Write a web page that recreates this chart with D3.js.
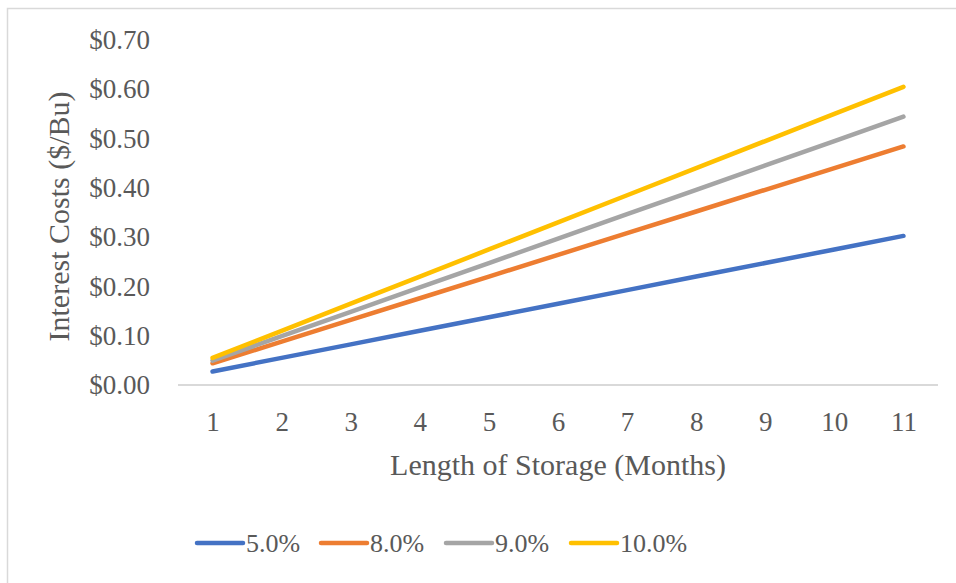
<!DOCTYPE html>
<html>
<head>
<meta charset="utf-8">
<script src="https://cdn.jsdelivr.net/npm/d3@7"></script>
<style>
  html, body { margin: 0; padding: 0; background: #fff; }
  svg { display: block; }
  text { font-family: "Liberation Serif", "DejaVu Serif", serif; fill: #595959; }
</style>
</head>
<body>
<svg id="chart" width="956" height="583"></svg>
<script>
// Storage months on the x axis
const months = [1, 2, 3, 4, 5, 6, 7, 8, 9, 10, 11];

// Interest cost per bushel for each annual rate
const rate5  = [0.0275, 0.055, 0.0825, 0.11, 0.1375, 0.165, 0.1925, 0.22, 0.2475, 0.275, 0.3025];
const rate8  = [0.044, 0.088, 0.132, 0.176, 0.22, 0.264, 0.308, 0.352, 0.396, 0.44, 0.484];
const rate9  = [0.0495, 0.099, 0.1485, 0.198, 0.2475, 0.297, 0.3465, 0.396, 0.4455, 0.495, 0.5445];
const rate10 = [0.055, 0.11, 0.165, 0.22, 0.275, 0.33, 0.385, 0.44, 0.495, 0.55, 0.605];

const seriesNames = ["5.0%", "8.0%", "9.0%", "10.0%"];
const seriesColors = ["#4472C4", "#ED7D31", "#A5A5A5", "#FFC000"];
const yTicks = [0, 0.1, 0.2, 0.3, 0.4, 0.5, 0.6, 0.7];

const series = [rate5, rate8, rate9, rate10].map((vals, i) => ({
  name: seriesNames[i],
  color: seriesColors[i],
  values: vals.map((v, j) => ({ m: months[j], v }))
}));

const svg = d3.select("#chart");

// Chart frame
svg.append("rect")
  .attr("x", 7.5).attr("y", 8.5)
  .attr("width", 980).attr("height", 600)
  .attr("fill", "#fff")
  .attr("stroke", "#D9D9D9").attr("stroke-width", 1.5);

const plot = { left: 178, right: 938, top: 40, bottom: 385 };

const x = d3.scalePoint()
  .domain(months)
  .range([plot.left, plot.right])
  .padding(0.5);

const y = d3.scaleLinear()
  .domain([0, 0.7])
  .range([plot.bottom, plot.top]);

// Y axis labels (no line, no ticks)
const yAxis = svg.append("g")
  .attr("transform", `translate(${plot.left - 28},0)`)
  .call(d3.axisLeft(y).tickValues(yTicks).tickSize(0).tickPadding(0)
    .tickFormat(d => "$" + d.toFixed(2)));
yAxis.select(".domain").remove();
yAxis.selectAll("text")
  .style("font-family", "'Liberation Serif', serif")
  .style("font-size", "27px")
  .attr("fill", "#595959");

// X axis
const xAxis = svg.append("g")
  .attr("transform", `translate(0,${plot.bottom})`)
  .call(d3.axisBottom(x).tickSize(0).tickPadding(27));
xAxis.select(".domain")
  .attr("stroke", "#D9D9D9").attr("stroke-width", 2)
  .attr("d", `M${plot.left},0H${plot.right}`);
xAxis.selectAll("text")
  .style("font-family", "'Liberation Serif', serif")
  .style("font-size", "27px")
  .attr("fill", "#595959");

// Axis titles
svg.append("text")
  .attr("x", (plot.left + plot.right) / 2)
  .attr("y", 475)
  .attr("text-anchor", "middle")
  .style("font-size", "30px")
  .text("Length of Storage (Months)");

svg.append("text")
  .attr("transform", `translate(69,${(plot.top + plot.bottom) / 2 + 4}) rotate(-90)`)
  .attr("text-anchor", "middle")
  .style("font-size", "30px")
  .text("Interest Costs ($/Bu)");

// Lines
const line = d3.line().x(d => x(d.m)).y(d => y(d.v));
svg.append("g").selectAll("path")
  .data(series)
  .join("path")
  .attr("d", d => line(d.values))
  .attr("fill", "none")
  .attr("stroke", d => d.color)
  .attr("stroke-width", 4.5)
  .attr("stroke-linecap", "round")
  .attr("stroke-linejoin", "round");

// Legend
const legendX = [197, 321, 446, 571];
const legend = svg.append("g").selectAll("g")
  .data(series)
  .join("g")
  .attr("transform", (d, i) => `translate(${legendX[i]},543)`);
legend.append("line")
  .attr("x1", 0).attr("x2", 46)
  .attr("y1", 0).attr("y2", 0)
  .attr("stroke", d => d.color)
  .attr("stroke-width", 4.5)
  .attr("stroke-linecap", "round");
legend.append("text")
  .attr("x", 49)
  .attr("y", 9)
  .style("font-size", "26px")
  .text(d => d.name);
</script>
</body>
</html>
